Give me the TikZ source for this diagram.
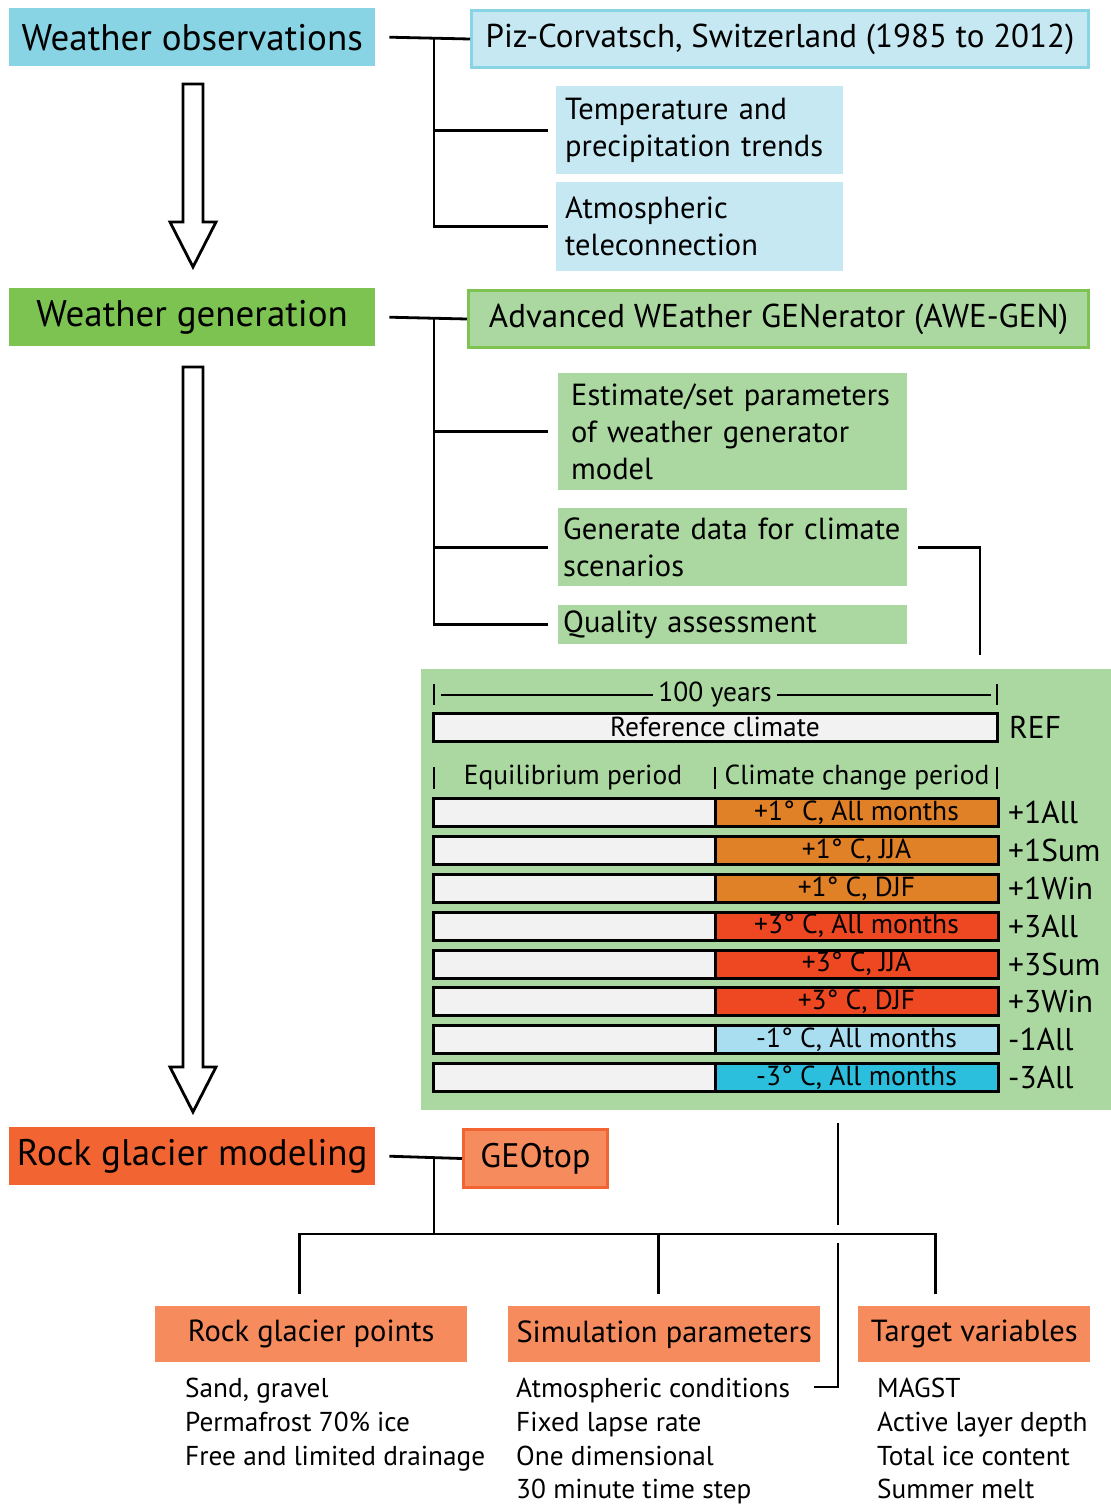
\documentclass[tikz,border=0pt]{standalone}
\usepackage{fontspec}
\setmainfont{PT Sans}
\usetikzlibrary{positioning}

\definecolor{obsblue}{HTML}{88D4E4}
\definecolor{obslight}{HTML}{C6E8F2}
\definecolor{gengreen}{HTML}{7DC352}
\definecolor{genlight}{HTML}{ABD8A0}
\definecolor{rockred}{HTML}{F26532}
\definecolor{rocklight}{HTML}{F68B5E}
\definecolor{warmone}{HTML}{E08027}
\definecolor{warmthree}{HTML}{EE4823}
\definecolor{coolone}{HTML}{A9DEF0}
\definecolor{coolthree}{HTML}{2BBFDD}
\definecolor{barwhite}{HTML}{F2F2F2}

\begin{document}
\begin{tikzpicture}[
  x=1pt, y=-1pt,
  stage/.style  = {anchor=north west, minimum width=366, minimum height=58,
                   inner sep=0pt, font=\fontsize{37}{44}\selectfont},
  tool/.style   = {anchor=north west, minimum height=57, inner sep=0pt,
                   line width=3pt, font=\fontsize{33}{40}\selectfont},
  task/.style   = {anchor=north west, inner xsep=9pt, inner ysep=0pt,
                   align=left, font=\fontsize{30.5}{37}\selectfont},
  conn/.style   = {line width=2.8pt},
  hollow/.style = {line width=2.8pt, fill=white, line join=miter},
  bar/.style    = {anchor=north west, draw, line width=3pt, minimum height=28,
                   inner sep=0pt, outer sep=0pt, font=\fontsize{27.5}{32}\selectfont},
  tag/.style    = {anchor=west, inner sep=0pt, font=\fontsize{31.5}{36}\selectfont},
  model/.style  = {anchor=north west, fill=rocklight, minimum width=312,
                   minimum height=56, inner sep=0pt, font=\fontsize{30.5}{36}\selectfont},
  items/.style  = {anchor=north west, inner sep=0pt, align=left,
                   font=\fontsize{27.3}{33.7}\selectfont}
]
  \useasboundingbox (0,0) rectangle (1111,1510);

  %% Weather observations
  \node[stage, fill=obsblue] (obs) at (9,8) {Weather observations};
  \node[tool, fill=obslight, draw=obsblue, minimum width=617] (piz) at (470,9)
       {Piz-Corvatsch, Switzerland (1985 to 2012)};
  \node[task, fill=obslight, text width=269, minimum height=88] (trend) at (556,86)
       {Temperature and\\precipitation trends};
  \node[task, fill=obslight, text width=269, minimum height=89] (tele) at (556,182)
       {Atmospheric\\teleconnection};

  \coordinate (t1) at (434,37);
  \draw[conn] ([xshift=14pt]obs.east) -- (piz.west);
  \draw[conn] (t1) |- ([xshift=-8pt]tele.west);
  \draw[conn] (t1 |- trend.west) -- ([xshift=-8pt]trend.west);

  \draw[hollow] (183,84) -- (203,84) -- (203,222) -- (216,222) -- (193,267)
                -- (170,222) -- (183,222) -- cycle;

  %% Weather generation
  \node[stage, fill=gengreen] (gen) at (9,288) {Weather generation};
  \node[tool, fill=genlight, draw=gengreen, minimum width=620] (awe) at (467,289)
       {Advanced WEather GENerator (AWE-GEN)};
  \node[task, fill=genlight, inner xsep=13pt, text width=323, minimum height=117]
       (param) at (558,373) {Estimate/set parameters\\of weather generator\\model};
  \node[task, fill=genlight, inner xsep=5pt, text width=339, minimum height=78]
       (scen) at (558,508) {\mbox{Generate data for climate}\\scenarios};
  \node[task, fill=genlight, inner xsep=5pt, text width=339, minimum height=39]
       (qual) at (558,605) {Quality assessment};

  \coordinate (t2) at (434,318);
  \draw[conn] ([xshift=14pt]gen.east) -- (awe.west);
  \draw[conn] (t2) |- ([xshift=-10pt]qual.west);
  \draw[conn] (t2 |- param.west) -- ([xshift=-10pt]param.west);
  \draw[conn] (t2 |- scen.west) -- ([xshift=-10pt]scen.west);

  \draw[hollow] (183,367) -- (203,367) -- (203,1067) -- (216,1067) -- (193,1112)
                -- (170,1067) -- (183,1067) -- cycle;

  %% Scenario panel
  \node[anchor=north west, fill=genlight, minimum width=690, minimum height=441,
        inner sep=0pt] (panel) at (421,669) {};
  \draw[conn] ([xshift=11pt]scen.east) -| ([shift={(559,-14)}]panel.north west);

  \node[inner xsep=5pt, font=\fontsize{27.5}{32}\selectfont] (years) at (715,695) {100 years};
  \draw[conn] (441,695) -- (years.west);
  \draw[conn] (years.east) -- (991,695);
  \foreach \x in {434,997}
    \draw[conn] (\x,684) -- (\x,705);

  \node[bar, fill=barwhite, minimum width=564] (ref) at (433,713) {Reference climate};
  \node[tag, right=12pt of ref] (reftag) {REF};

  \foreach \x in {434,715,997}
    \draw[conn] (\x,767) -- (\x,789);
  \node[font=\fontsize{27.5}{32}\selectfont] (eqlab) at (573,778) {Equilibrium period};
  \node[font=\fontsize{27.5}{32}\selectfont] (cclab) at (857,778) {Climate change period};

  \foreach \col/\txt/\code [count=\i] in {
      warmone/{+1° C, All months}/+1All,
      warmone/{+1° C, JJA}/+1Sum,
      warmone/{+1° C, DJF}/+1Win,
      warmthree/{+3° C, All months}/+3All,
      warmthree/{+3° C, JJA}/+3Sum,
      warmthree/{+3° C, DJF}/+3Win,
      coolone/{-1° C, All months}/-1All,
      coolthree/{-3° C, All months}/-3All} {
    \node[bar, fill=barwhite, minimum width=282] (eq\i) at (433,{761+37.8*\i}) {};
    \node[bar, fill=\col, minimum width=283, right=0pt of eq\i] (cc\i) {\txt};
    \node[tag, right=10pt of cc\i] (tag\i) {\code};
  }

  %% Rock glacier modeling
  \node[stage, fill=rockred] (rock) at (9,1127) {Rock glacier modeling};
  \node[tool, fill=rocklight, draw=rockred, minimum width=144, minimum height=58,
        font=\fontsize{34}{40}\selectfont] (geotop) at (462,1128) {GEOtop};

  \coordinate (t3) at (434,1157);
  \draw[conn] ([xshift=14pt]rock.east) -- (geotop.west);

  \node[model] (points) at (155,1306) {Rock glacier points};
  \node[model] (simpar) at (508,1306) {Simulation parameters};
  \node[model, minimum width=232] (target) at (858,1306) {Target variables};

  \coordinate (bus) at (434,1234);
  \draw[conn] (t3) -- (bus);
  \draw[conn] ([xshift=-12pt,yshift=12pt]points.north) |- ([xshift=-39pt,yshift=72pt]target.north)
              -- ([xshift=-39pt,yshift=12pt]target.north);
  \draw[conn] ([xshift=-6pt,yshift=12pt]simpar.north) -- ++(0,-60);

  \node[items] (pointlist) at (185,1378)
       {Sand, gravel\\Permafrost 70\% ice\\Free and limited drainage};
  \node[items] (simlist) at (516,1378)
       {Atmospheric conditions\\Fixed lapse rate\\One dimensional\\30 minute time step};
  \node[items] (targetlist) at (877,1378)
       {MAGST\\Active layer depth\\Total ice content\\Summer melt};

  %% Scenarios feed the atmospheric forcing
  \coordinate (atmend) at (814,1387);
  \draw[conn] ([shift={(417,13)}]panel.south west) -- ++(0,102);
  \draw[conn] ([shift={(417,133)}]panel.south west) |- (atmend);
\end{tikzpicture}
\end{document}
